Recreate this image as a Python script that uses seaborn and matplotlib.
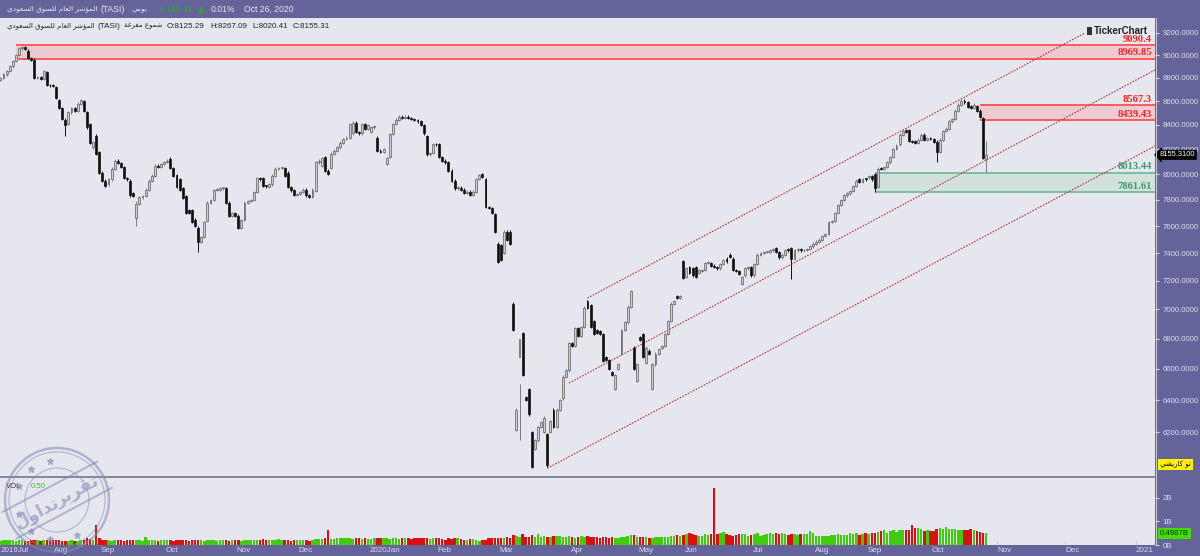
import numpy as np
import pandas as pd
import matplotlib
matplotlib.use("Agg")
import matplotlib.pyplot as plt
import matplotlib.transforms as mtrans
from matplotlib.patches import Rectangle, Circle
import seaborn as sns

# ---------------- DATA ----------------
# Tadawul trading calendar (Sun-Thu) closures in the period
holidays = ["2019-08-08", "2019-08-11", "2019-08-12", "2019-08-13", "2019-08-14", "2019-08-15",
            "2019-09-23", "2020-05-21", "2020-05-24", "2020-05-25", "2020-05-26", "2020-05-27",
            "2020-05-28", "2020-07-29", "2020-07-30", "2020-08-02", "2020-08-03", "2020-08-04",
            "2020-08-05", "2020-08-06", "2020-09-23"]

# daily (open, close) per month
jul19 = [(8760, 8780), (8780, 8800), (8800, 8830), (8830, 8860), (8860, 8900), (8900, 8950), (8950, 9000),
         (9000, 9060), (9060, 9070), (9070, 9055), (9040, 8975), (8975, 8960), (8960, 8800), (8800, 8810),
         (8810, 8790), (8790, 8860), (8850, 8740), (8740, 8735), (8735, 8730)]
aug19 = [(8720, 8630), (8610, 8540), (8540, 8450), (8440, 8400), (8410, 8505), (8505, 8540), (8540, 8520),
         (8520, 8580), (8580, 8610), (8600, 8520), (8505, 8380), (8410, 8250), (8215, 8260), (8312, 8165),
         (8175, 8014)]
sep19 = [(8014, 7950), (7950, 7912), (7920, 7960), (7960, 8045), (8045, 8110), (8110, 8090), (8090, 8060),
         (8055, 7970), (7970, 7960), (7950, 7835), (7850, 7830), (7660, 7770), (7770, 7820), (7820, 7830),
         (7830, 7880), (7880, 7950), (7950, 7990), (7990, 8070), (8070, 8060), (8060, 8080), (8080, 8100)]
oct19 = [(8100, 8110), (8125, 8050), (8050, 7990), (7995, 7900), (7960, 7880), (7890, 7815), (7830, 7700),
         (7720, 7700), (7720, 7630), (7650, 7600), (7590, 7485), (7485, 7520), (7520, 7630), (7640, 7780),
         (7780, 7800), (7800, 7875), (7875, 7880), (7880, 7890), (7890, 7890), (7890, 7780), (7780, 7680),
         (7680, 7700), (7700, 7680)]
nov19 = [(7680, 7585), (7585, 7645), (7650, 7780), (7780, 7790), (7790, 7800), (7800, 7860), (7860, 7970),
         (7970, 7960), (7970, 7910), (7910, 7905), (7900, 7920), (7920, 7990), (7990, 8045), (8045, 8050),
         (8050, 8050), (8050, 7990), (8014, 7900), (7900, 7874), (7874, 7840), (7840, 7845)]
dec19 = [(7845, 7860), (7860, 7880), (7880, 7835), (7835, 7825), (7825, 7880), (7870, 8095), (8095, 8110),
         (8070, 8130), (8140, 8030), (8030, 8005), (8050, 8165), (8165, 8190), (8190, 8215), (8215, 8255),
         (8255, 8285), (8285, 8295), (8295, 8410), (8330, 8420), (8420, 8340), (8340, 8330), (8330, 8410),
         (8410, 8370), (8370, 8400)]
jan20 = [(8340, 8380), (8380, 8390), (8295, 8190), (8190, 8180), (8180, 8200), (8085, 8130), (8140, 8325),
         (8325, 8410), (8410, 8445), (8445, 8470), (8470, 8460), (8460, 8470), (8470, 8460), (8460, 8450),
         (8450, 8440), (8440, 8430), (8430, 8400), (8400, 8330), (8310, 8160), (8160, 8170), (8170, 8245),
         (8245, 8240)]
feb20 = [(8240, 8140), (8140, 8110), (8110, 8095), (8095, 8030), (8030, 7950), (7950, 7890), (7890, 7895),
         (7895, 7880), (7880, 7855), (7855, 7865), (7865, 7840), (7840, 7865), (7865, 7965), (7965, 7995),
         (8000, 7980), (7965, 7745), (7745, 7740), (7740, 7700), (7690, 7560), (7470, 7337)]
mar20 = [(7460, 7350), (7400, 7560), (7560, 7500), (7560, 7470), (7040, 6860), (6215, 6340), (6680, 6800),
         (6840, 6560), (6420, 6400), (6470, 6310), (6200, 5990), (6100, 6150), (6150, 6230), (6230, 6260),
         (6200, 6290), (6190, 6000), (6200, 6270), (6340, 6230), (6230, 6340), (6340, 6400), (6410, 6550),
         (6550, 6590), (6590, 6770)]
apr20 = [(6770, 6750), (6750, 6870), (6870, 6820), (6820, 6880), (6880, 7013), (7060, 7010), (7030, 6880),
         (6920, 6830), (6860, 6840), (6850, 6830), (6830, 6650), (6680, 6660), (6660, 6600), (6580, 6560),
         (6470, 6560), (6600, 6630), (6700, 6860), (6860, 6910), (6910, 7020), (7020, 7125), (6740, 6600),
         (6520, 6630)]
may20 = [(6810, 6790), (6830, 6680), (6640, 6740), (6720, 6700), (6470, 6630), (6630, 6700), (6700, 6730),
         (6740, 6750), (6750, 6830), (6830, 6920), (6920, 7040), (7040, 7060), (7090, 7080), (7080, 7090),
         (7340, 7220)]
jun20 = [(7230, 7290), (7300, 7260), (7290, 7240), (7300, 7230), (7260, 7280), (7270, 7280), (7280, 7330),
         (7330, 7335), (7330, 7310), (7310, 7300), (7300, 7290), (7290, 7320), (7320, 7350), (7360, 7340),
         (7390, 7375), (7360, 7280), (7280, 7270), (7270, 7250), (7180, 7225), (7240, 7290), (7290, 7300),
         (7300, 7240)]
jul20 = [(7240, 7320), (7320, 7390), (7390, 7400), (7400, 7410), (7410, 7410), (7410, 7420), (7420, 7430),
         (7440, 7410), (7410, 7370), (7370, 7390), (7390, 7420), (7430, 7420), (7440, 7360), (7360, 7420),
         (7420, 7430), (7430, 7420), (7420, 7425), (7425, 7430), (7430, 7450), (7450, 7470)]
aug20 = [(7470, 7485), (7485, 7500), (7500, 7525), (7525, 7540), (7540, 7630), (7630, 7640), (7640, 7700),
         (7700, 7760), (7760, 7800), (7800, 7835), (7835, 7850), (7850, 7870), (7870, 7910), (7910, 7950),
         (7960, 7940), (7940, 7965), (7965, 7960)]
sep20 = [(7975, 7985), (7985, 7960), (8005, 7890), (7900, 8045), (8045, 8040), (8040, 8060), (8060, 8100),
         (8095, 8140), (8140, 8205), (8205, 8230), (8240, 8320), (8320, 8350), (8355, 8340), (8360, 8270),
         (8270, 8260), (8265, 8250), (8250, 8280), (8280, 8320), (8320, 8275), (8275, 8290), (8290, 8285)]
oct20 = [(8285, 8260), (8260, 8180), (8180, 8280), (8280, 8350), (8350, 8370), (8370, 8430), (8430, 8450),
         (8450, 8520), (8520, 8570), (8570, 8605), (8605, 8590), (8590, 8550), (8555, 8545), (8545, 8570),
         (8560, 8520), (8520, 8470), (8460, 8130), (8125.29, 8155.31)]

# daily traded value (billions)
vol_jul19 = [0.20, 0.19, 0.21, 0.20, 0.22, 0.20, 0.19, 0.21, 0.20, 0.18, 0.19, 0.22, 0.20, 0.21, 0.19, 0.20,
             0.21, 0.22, 0.20]
vol_aug19 = [0.21, 0.20, 0.19, 0.18, 0.19, 0.20, 0.18, 0.19, 0.22, 0.22, 0.30, 0.24, 0.22, 0.85, 0.28]
vol_sep19 = [0.22, 0.20, 0.21, 0.19, 0.20, 0.22, 0.20, 0.19, 0.21, 0.20, 0.22, 0.20, 0.21, 0.19, 0.35, 0.22,
             0.20, 0.21, 0.19, 0.20, 0.21]
vol_oct19 = [0.20, 0.21, 0.19, 0.20, 0.22, 0.21, 0.20, 0.19, 0.20, 0.21, 0.22, 0.20, 0.19, 0.21, 0.20, 0.22,
             0.19, 0.20, 0.21, 0.20, 0.19, 0.21, 0.20]
vol_nov19 = [0.20, 0.19, 0.21, 0.20, 0.20, 0.22, 0.21, 0.20, 0.24, 0.22, 0.21, 0.20, 0.21, 0.25, 0.22, 0.20,
             0.21, 0.19, 0.20, 0.22]
vol_dec19 = [0.21, 0.20, 0.22, 0.19, 0.21, 0.24, 0.26, 0.24, 0.28, 0.64, 0.25, 0.27, 0.30, 0.31, 0.30, 0.29,
             0.30, 0.27, 0.28, 0.29, 0.27, 0.28, 0.26]
vol_jan20 = [0.27, 0.30, 0.28, 0.29, 0.30, 0.28, 0.27, 0.29, 0.28, 0.27, 0.30, 0.29, 0.28, 0.27, 0.29, 0.28,
             0.30, 0.29, 0.28, 0.27, 0.29, 0.30]
vol_feb20 = [0.30, 0.24, 0.22, 0.28, 0.27, 0.28, 0.28, 0.27, 0.22, 0.20, 0.24, 0.27, 0.22, 0.18, 0.20, 0.22,
             0.30, 0.29, 0.30, 0.29]
vol_mar20 = [0.30, 0.28, 0.35, 0.30, 0.42, 0.38, 0.35, 0.45, 0.35, 0.33, 0.42, 0.34, 0.45, 0.32, 0.38, 0.36,
             0.33, 0.37, 0.40, 0.38, 0.36, 0.34, 0.39]
vol_apr20 = [0.33, 0.30, 0.32, 0.38, 0.36, 0.38, 0.34, 0.33, 0.35, 0.30, 0.32, 0.34, 0.31, 0.33, 0.29, 0.31,
             0.34, 0.36, 0.38, 0.42, 0.41, 0.36]
vol_may20 = [0.34, 0.35, 0.33, 0.31, 0.30, 0.34, 0.36, 0.33, 0.35, 0.32, 0.37, 0.40, 0.42, 0.38, 0.43]
vol_jun20 = [0.45, 0.52, 0.48, 0.44, 0.40, 0.38, 0.45, 0.43, 0.46, 2.43, 0.47, 0.52, 0.55, 0.46, 0.44, 0.40,
             0.42, 0.47, 0.46, 0.45, 0.40, 0.41]
vol_jul20 = [0.48, 0.50, 0.40, 0.41, 0.48, 0.53, 0.45, 0.50, 0.48, 0.52, 0.46, 0.44, 0.46, 0.47, 0.43, 0.45,
             0.46, 0.47, 0.58, 0.50]
vol_aug20 = [0.40, 0.38, 0.37, 0.38, 0.40, 0.42, 0.44, 0.48, 0.42, 0.43, 0.42, 0.50, 0.45, 0.50, 0.43, 0.47,
             0.50]
vol_sep20 = [0.48, 0.50, 0.52, 0.55, 0.60, 0.62, 0.52, 0.58, 0.65, 0.55, 0.62, 0.62, 0.64, 0.63, 0.85, 0.72,
             0.72, 0.68, 0.60, 0.64, 0.58]
vol_oct20 = [0.60, 0.68, 0.72, 0.70, 0.75, 0.66, 0.70, 0.66, 0.64, 0.64, 0.62, 0.64, 0.68, 0.62, 0.58, 0.56,
             0.52, 0.4987]

month_keys = ["2019-07", "2019-08", "2019-09", "2019-10", "2019-11", "2019-12", "2020-01", "2020-02",
              "2020-03", "2020-04", "2020-05", "2020-06", "2020-07", "2020-08", "2020-09", "2020-10"]
price_months = [jul19, aug19, sep19, oct19, nov19, dec19, jan20, feb20, mar20, apr20, may20, jun20,
                jul20, aug20, sep20, oct20]
vol_months = [vol_jul19, vol_aug19, vol_sep19, vol_oct19, vol_nov19, vol_dec19, vol_jan20, vol_feb20,
              vol_mar20, vol_apr20, vol_may20, vol_jun20, vol_jul20, vol_aug20, vol_sep20, vol_oct20]

# notable long shadows: date -> (low, high)
long_wicks = {"2019-08-06": (8310, 8460), "2019-09-16": (7600, 7790), "2019-10-15": (7406, 7600),
              "2020-03-09": (6150, 6500), "2020-07-19": (7210, 7445), "2020-09-03": (7861.61, 8010),
              "2020-10-04": (8095, 8275), "2020-10-26": (8020.41, 8267.09)}

# zones drawn on the chart: (start date, low, high, low label, high label)
red_zones = [("2019-07-15", 8969.85, 9090.4, "8969.85", "9090.4"),
             ("2020-10-22", 8439.43, 8567.3, "8439.43", "8567.3")]
green_zones = [("2020-09-03", 7861.61, 8013.44, "7861.61", "8013.44")]

# trend channel lines: (start date, start price, end date, end price)
channel = [("2020-04-08", 7079, "2020-12-09", 9200),
           ("2020-03-31", 6508, "2021-01-11", 8875),
           ("2020-03-22", 5983, "2021-01-11", 8232)]

price_ticks = [6200, 6400, 6600, 6800, 7000, 7200, 7400, 7600, 7800, 8000, 8200, 8400, 8600, 8800,
               9000, 9200]
vol_ticks = [0, 1, 2]
vol_tick_labels = ["0B", "1B", "2B"]
month_labels = ["Aug", "Sep", "Oct", "Nov", "Dec", "2020Jan", "Feb", "Mar", "Apr", "May", "Jun", "Jul",
                "Aug", "Sep", "Oct", "Nov", "Dec", "2021"]
last_price = 8155.31
last_vol = 0.4987

# ---------------- ARABIC SHAPING (presentation forms) ----------------
AR = {
    'ا': ('\uFE8D', '\uFE8E', None, None), 'ب': ('\uFE8F', '\uFE90', '\uFE91', '\uFE92'),
    'ة': ('\uFE93', '\uFE94', None, None), 'ت': ('\uFE95', '\uFE96', '\uFE97', '\uFE98'),
    'ج': ('\uFE9D', '\uFE9E', '\uFE9F', '\uFEA0'), 'ح': ('\uFEA1', '\uFEA2', '\uFEA3', '\uFEA4'),
    'خ': ('\uFEA5', '\uFEA6', '\uFEA7', '\uFEA8'), 'د': ('\uFEA9', '\uFEAA', None, None),
    'ر': ('\uFEAD', '\uFEAE', None, None), 'س': ('\uFEB1', '\uFEB2', '\uFEB3', '\uFEB4'),
    'ش': ('\uFEB5', '\uFEB6', '\uFEB7', '\uFEB8'), 'ع': ('\uFEC9', '\uFECA', '\uFECB', '\uFECC'),
    'غ': ('\uFECD', '\uFECE', '\uFECF', '\uFED0'), 'ف': ('\uFED1', '\uFED2', '\uFED3', '\uFED4'),
    'ق': ('\uFED5', '\uFED6', '\uFED7', '\uFED8'), 'ك': ('\uFED9', '\uFEDA', '\uFEDB', '\uFEDC'),
    'ل': ('\uFEDD', '\uFEDE', '\uFEDF', '\uFEE0'), 'م': ('\uFEE1', '\uFEE2', '\uFEE3', '\uFEE4'),
    'ن': ('\uFEE5', '\uFEE6', '\uFEE7', '\uFEE8'), 'ه': ('\uFEE9', '\uFEEA', '\uFEEB', '\uFEEC'),
    'و': ('\uFEED', '\uFEEE', None, None), 'ؤ': ('\uFE85', '\uFE86', None, None),
    'ي': ('\uFEF1', '\uFEF2', '\uFEF3', '\uFEF4'),
}


def ar(text):
    out = []
    n = len(text)
    for i, ch in enumerate(text):
        if ch not in AR:
            out.append(ch)
            continue
        iso, fin, ini, med = AR[ch]
        prev = text[i - 1] if i > 0 else None
        nxt = text[i + 1] if i < n - 1 else None
        jp = prev in AR and AR[prev][2] is not None
        jn = ini is not None and nxt in AR
        out.append(med if (jp and jn) else fin if jp else ini if jn else iso)
    return "".join(out)[::-1]


# ---------------- BUILD TABLE ----------------
cal = pd.bdate_range("2019-07-07", "2021-01-31", freq="C", weekmask="Sun Mon Tue Wed Thu",
                     holidays=pd.to_datetime(holidays))
cal_month = cal.strftime("%Y-%m")
rows = []
for key, pairs, vols in zip(month_keys, price_months, vol_months):
    idxs = np.where(cal_month == key)[0]
    for i, (o, c), v in zip(idxs, pairs, vols):
        rows.append((i, cal[i].strftime("%Y-%m-%d"), o, c, v))
df = pd.DataFrame(rows, columns=["x", "date", "open", "close", "vol"])
df["up"] = df["close"] >= df["open"]
pad = 0.0012
df["high"] = df[["open", "close"]].max(axis=1) * (1 + pad)
df["low"] = df[["open", "close"]].min(axis=1) * (1 - pad)
for d, (lo, hi) in long_wicks.items():
    m = df["date"] == d
    df.loc[m, "low"] = lo
    df.loc[m, "high"] = hi
df["dir"] = np.where(df["up"], "up", "down")

date_pos = {d.strftime("%Y-%m-%d"): i for i, d in enumerate(cal)}

# ---------------- STYLE ----------------
sns.set_theme(style="white")
plt.rcParams["font.family"] = ["Liberation Sans", "DejaVu Sans"]
PURPLE = "#64649B"
PANEL = "#E6E6EF"
LIGHT = "#DCDCEC"

W, H = 1200, 556
fig = plt.figure(figsize=(W / 100, H / 100), dpi=100, facecolor=PURPLE)

XL = (0.874, 374.66)
ax_p = fig.add_axes([0, 1 - 476 / H, 1155 / W, (476 - 18) / H], facecolor=PANEL)
ax_v = fig.add_axes([0, 1 - 545 / H, 1155 / W, (545 - 478) / H], facecolor=PANEL)

# ---------------- PRICE PANEL ----------------
ax_p.set_yscale("log")
ax_p.set_ylim(5937, 9337)
ax_p.set_xlim(*XL)
xr = XL[1] + 5
blend_p = mtrans.blended_transform_factory(ax_p.transAxes, ax_p.transData)


def zone(start, lo, hi, llab, hlab, face, edge, txt):
    x0 = date_pos[start]
    ax_p.add_patch(Rectangle((x0, lo), xr - x0, hi - lo, facecolor=face, edgecolor="none", zorder=1))
    ax_p.hlines([lo, hi], x0, xr, colors=edge, lw=1.2, zorder=1.5)
    for val, lab in ((lo, llab), (hi, hlab)):
        ax_p.text(0.9975, val * 1.0012, lab, transform=blend_p, ha="right", va="bottom", color=txt,
                  fontsize=7.6, fontweight="bold", family="Liberation Serif", zorder=7)


for z in red_zones:
    zone(*z, face="#EDCAD2", edge="#FF4646", txt="#FF2323")
for z in green_zones:
    zone(*z, face="#D2E1DC", edge="#63BA92", txt="#3A9C6C")

for d0, p0, d1, p1 in channel:
    line_df = pd.DataFrame({"x": [date_pos[d0], date_pos[d1]], "y": [p0, p1]})
    sns.lineplot(data=line_df, x="x", y="y", ax=ax_p, color="#B03A3A", lw=0.8, linestyle=(0, (1.5, 1.2)),
                 estimator=None, zorder=2)

up = df[df["up"]]
dn = df[~df["up"]]
ax_p.vlines(up["x"], up["low"], up["high"], colors="#7A7A7A", lw=0.7, zorder=3)
ax_p.vlines(dn["x"], dn["low"], dn["high"], colors="#111111", lw=0.7, zorder=3)


def body_h(s):
    return np.maximum(np.abs(s["close"] - s["open"]), s["close"] * 0.0009)


ax_p.bar(up["x"], body_h(up), bottom=np.minimum(up["open"], up["close"]), width=0.62,
         color="#CDCDD3", edgecolor="#707070", lw=0.6, zorder=4)
ax_p.bar(dn["x"], body_h(dn), bottom=np.minimum(dn["open"], dn["close"]), width=0.62,
         color="#101010", edgecolor="#101010", lw=0.5, zorder=4)

ax_p.set_xlabel("")
ax_p.set_ylabel("")
ax_p.yaxis.tick_right()
ax_p.yaxis.set_major_locator(matplotlib.ticker.FixedLocator(price_ticks))
ax_p.yaxis.set_major_formatter(matplotlib.ticker.FixedFormatter([f"{t:.4f}" for t in price_ticks]))
ax_p.yaxis.set_minor_locator(matplotlib.ticker.NullLocator())
ax_p.tick_params(axis="y", which="major", right=True, length=3, width=0.8, color=LIGHT, labelcolor=LIGHT,
                 labelsize=5.6, pad=2.5)
ax_p.set_xticks([])
for s in ax_p.spines.values():
    s.set_visible(False)

ax_p.text(1.004, last_price, "8155.3100", transform=blend_p, ha="left", va="center", color="white",
          fontsize=5.4, clip_on=False, zorder=10,
          bbox=dict(boxstyle="larrow,pad=0.16", fc="black", ec="black", lw=0.5))
ax_p.text(1.004, 6005, ar("تو كاريشي"), transform=blend_p, ha="left", va="center", color="black",
          fontsize=5.0, family="DejaVu Sans", clip_on=False, zorder=10,
          bbox=dict(boxstyle="square,pad=0.3", fc="#FFF200", ec="none"))
ax_p.text(1094 / 1155, 1 - (31 - 18) / 458, "TickerChart", transform=ax_p.transAxes, ha="left",
          va="center", fontsize=7.0, fontweight="bold", color="#222222", zorder=6)
ax_p.add_patch(Rectangle((1087 / 1155, 1 - (35 - 18) / 458), 5 / 1155, 8 / 458, transform=ax_p.transAxes,
                         facecolor="#333333", edgecolor="none", zorder=6))

# ---------------- VOLUME PANEL ----------------
sns.barplot(data=df, x="x", y="vol", hue="dir", palette={"up": "#3FCC0E", "down": "#DC0E0E"},
            native_scale=True, dodge=False, width=0.8, linewidth=0, errorbar=None, saturation=1,
            legend=False, ax=ax_v)
ax_v.set_xlim(*XL)
ax_v.set_ylim(0, 2.85)
ax_v.set_xlabel("")
ax_v.set_ylabel("")
ax_v.yaxis.tick_right()
ax_v.set_yticks(vol_ticks)
ax_v.set_yticklabels(vol_tick_labels)
ax_v.tick_params(axis="y", right=True, length=3, width=0.8, color=LIGHT, labelcolor=LIGHT, labelsize=5.6, pad=2.5)
starts = []
for m in pd.period_range("2019-08", "2021-01", freq="M"):
    starts.append(int(np.where(cal_month == m.strftime("%Y-%m"))[0][0]) - 0.5)
ax_v.set_xticks([1.0] + starts)
ax_v.set_xticklabels(["2019Jul"] + month_labels)
ax_v.tick_params(axis="x", bottom=True, direction="in", length=3, width=0.8, color="#C8C8D8",
                 labelcolor=LIGHT, labelsize=5.8, pad=1.2)
for t in ax_v.get_xticklabels():
    t.set_ha("left")
for s in ax_v.spines.values():
    s.set_visible(False)
blend_v = mtrans.blended_transform_factory(ax_v.transAxes, ax_v.transData)
ax_v.text(1.004, last_vol, "0.4987B", transform=blend_v, ha="left", va="center", color="#0D2A0D",
          fontsize=5.6, clip_on=False, zorder=10,
          bbox=dict(boxstyle="square,pad=0.25", fc="#44DD00", ec="none"))
ax_v.text(0.005, 0.93, "VOL", transform=ax_v.transAxes, ha="left", va="top", fontsize=5.6, color="#333333")
ax_v.text(0.027, 0.93, "0.50", transform=ax_v.transAxes, ha="left", va="top", fontsize=5.6, color="#3FBF20")

# separators
fig.add_artist(plt.Line2D([0, 1155 / W], [1 - 477 / H] * 2, color="#8A8A98", lw=1.4))
fig.add_artist(plt.Line2D([1156 / W] * 2, [1 - 545 / H, 1 - 18 / H], color="#C4C4D4", lw=0.8))

# ---------------- HEADER ----------------
renderer = fig.canvas.get_renderer()


def text_row(py, pieces, x0=7):
    x = x0
    for s, gap, kw in pieces:
        t = fig.text(x / W, 1 - py / H, s, ha="left", va="center", **kw)
        x += t.get_window_extent(renderer).width + gap


name = ar("المؤشر العام للسوق السعودي")
hdr = "#E6E6F4"
arab = dict(family="DejaVu Sans")
text_row(9.5, [
    (name, 3, dict(fontsize=5.2, color=hdr, **arab)),
    ("(TASI)", 7, dict(fontsize=6.2, color=hdr)),
    (ar("يومي"), 12, dict(fontsize=5.2, color=hdr, **arab)),
    ("8,155.31", 5, dict(fontsize=6.2, color="#2FA52F")),
    ("\u25B2", 6, dict(fontsize=6.2, color="#2FA52F", **arab)),
    ("0.01%", 9, dict(fontsize=6.2, color=hdr)),
    ("Oct 26, 2020", 0, dict(fontsize=6.2, color=hdr)),
])
ink = "#222222"
text_row(26, [
    (name, 3, dict(fontsize=5.0, color=ink, **arab)),
    ("(TASI)", 3, dict(fontsize=5.8, color=ink)),
    (ar("شموع مفرغة"), 5, dict(fontsize=5.0, color=ink, **arab)),
    ("O:8125.29", 6, dict(fontsize=5.8, color=ink)),
    ("H:8267.09", 5, dict(fontsize=5.8, color=ink)),
    ("L:8020.41", 4, dict(fontsize=5.8, color=ink)),
    ("C:8155.31", 0, dict(fontsize=5.8, color=ink)),
])

# ---------------- STAMP WATERMARK ----------------
ident = mtrans.IdentityTransform()
cx, cy = 57, H - 500
stamp_col = "#7E8CB0"
for r, lw in ((52, 1.8), (48, 0.8), (32, 0.8)):
    fig.add_artist(Circle((cx, cy), r, transform=ident, fill=False, ec=stamp_col, lw=lw, alpha=0.55))
ang = np.deg2rad(28)
dx, dy = np.cos(ang), np.sin(ang)
nx, ny = -dy, dx
for off in (-15, 15):
    fig.add_artist(plt.Line2D([cx - 54 * dx + off * nx, cx + 54 * dx + off * nx],
                              [cy - 54 * dy + off * ny, cy + 54 * dy + off * ny],
                              transform=ident, color=stamp_col, lw=1.4, alpha=0.55))
for word, along in (("تقرير", 23), ("تداول", -23)):
    fig.text((cx + along * dx) / W, (cy + along * dy) / H - 0.004, ar(word), rotation=28, ha="center",
             va="center", fontsize=12.5, fontweight="bold", color=stamp_col, alpha=0.6, family="DejaVu Sans")
star_ang = np.deg2rad([100, 130, 160, 200, 230, 260, 300])
fig.add_artist(plt.Line2D(cx + 40 * np.cos(star_ang), cy + 40 * np.sin(star_ang), transform=ident,
                          ls="none", marker="*", ms=4.5, color=stamp_col, alpha=0.55))

fig.savefig("out.png", dpi=100, facecolor=PURPLE)
